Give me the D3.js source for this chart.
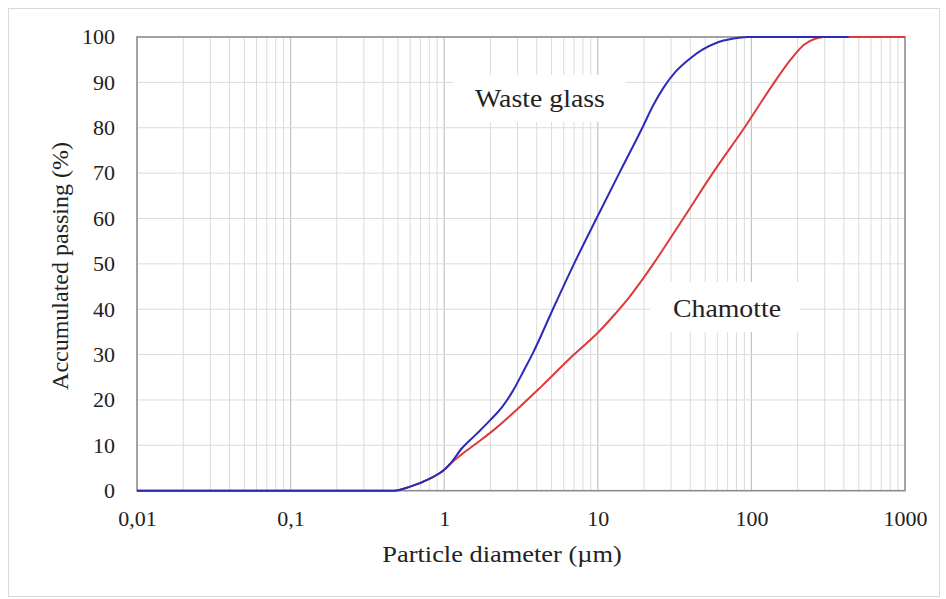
<!DOCTYPE html>
<html><head><meta charset="utf-8">
<script src="https://cdn.jsdelivr.net/npm/d3@7"></script>
<style>
html,body{margin:0;padding:0;background:#fff;}
svg{display:block;}
text{font-family:"Liberation Serif","Times New Roman",serif;fill:#222;}
</style></head>
<body>
<script>
// ---- data ----
const xTickValues = [0.01, 0.1, 1, 10, 100, 1000];
const xTickLabels = ["0,01", "0,1", "1", "10", "100", "1000"];
const yTickValues = [0, 10, 20, 30, 40, 50, 60, 70, 80, 90, 100];

const wasteGlassD = [0.01, 0.1, 0.3, 0.47, 0.6, 0.8, 1.0, 1.1, 1.3, 1.6, 2.0, 2.4, 2.8, 3.3, 3.8, 5.1, 7.0, 9.8, 13.8, 19.5, 23, 27, 32, 39, 48, 60, 75, 95, 430];
const wasteGlassP = [0, 0, 0, 0, 0.9, 2.6, 4.6, 6.0, 9.3, 12.3, 15.6, 18.6, 22, 26.5, 30.5, 40, 50, 60, 70, 80, 85, 89, 92.3, 95, 97.2, 98.8, 99.6, 100, 100];

const chamotteD = [0.01, 0.1, 0.3, 0.47, 0.6, 0.8, 1.0, 1.1, 1.3, 1.6, 2.0, 3.0, 4.3, 7.0, 10, 13, 16, 19, 23, 36, 56, 90, 141, 180, 220, 260, 295, 1000];
const chamotteP = [0, 0, 0, 0, 0.9, 2.6, 4.6, 6.0, 8.0, 10.3, 12.8, 18, 23, 30, 34.8, 39, 42.6, 46, 50, 60, 70, 80, 90, 95, 98.3, 99.6, 100, 100];

const seriesNames = ["Waste glass", "Chamotte"];
const xTitle = "Particle diameter (µm)";
const yTitle = "Accumulated passing (%)";

// ---- layout ----
const W = 946, H = 599;
const L = 137, R = 905, T = 37, B = 490.7;
const svg = d3.select("body").append("svg").attr("width", W).attr("height", H);

svg.append("rect").attr("x", 8.5).attr("y", 8.5).attr("width", 931).attr("height", 588)
  .attr("fill", "#fff").attr("stroke", "#d9d9d9").attr("stroke-width", 1);

const x = d3.scaleLog().domain([0.01, 1000]).range([L, R]);
const y = d3.scaleLinear().domain([0, 100]).range([B, T]);

const g = svg.append("g");

// minor vertical gridlines
const minor = [];
for (let e = -2; e < 3; e++) for (let k = 2; k <= 9; k++) minor.push(k * Math.pow(10, e));
g.selectAll(".vmin").data(minor).join("line")
  .attr("x1", d => x(d)).attr("x2", d => x(d)).attr("y1", T).attr("y2", B)
  .attr("stroke", "#dcdcdc").attr("stroke-width", 1);
g.selectAll(".vmaj").data(xTickValues.slice(1, -1)).join("line")
  .attr("x1", d => x(d)).attr("x2", d => x(d)).attr("y1", T).attr("y2", B)
  .attr("stroke", "#c4c4c4").attr("stroke-width", 1.2);
g.selectAll(".hg").data(yTickValues.slice(1, -1)).join("line")
  .attr("x1", L).attr("x2", R).attr("y1", d => y(d)).attr("y2", d => y(d))
  .attr("stroke", "#dcdcdc").attr("stroke-width", 1);

// annotation backgrounds
svg.append("rect").attr("x", 453).attr("y", 75).attr("width", 172).attr("height", 47).attr("fill", "#fff");
svg.append("rect").attr("x", 650).attr("y", 282).attr("width", 150).attr("height", 50).attr("fill", "#fff");

// frame
svg.append("rect").attr("x", L).attr("y", T).attr("width", R - L).attr("height", B - T)
  .attr("fill", "none").attr("stroke", "#8c8c8c").attr("stroke-width", 1.6);

// lines
const line = d3.line().x(d => x(d[0])).y(d => y(d[1])).curve(d3.curveMonotoneX);
svg.append("path").datum(d3.zip(chamotteD, chamotteP)).attr("d", line)
  .attr("fill", "none").attr("stroke", "#dd3b3b").attr("stroke-width", 2);
svg.append("path").datum(d3.zip(wasteGlassD, wasteGlassP)).attr("d", line)
  .attr("fill", "none").attr("stroke", "#2b2bb8").attr("stroke-width", 2);

// axes via d3 axis, styled
const xAxis = d3.axisBottom(x).tickValues(xTickValues).tickFormat((d, i) => xTickLabels[i]).tickSize(0).tickPadding(0);
const xa = svg.append("g").attr("transform", `translate(0,${B})`).call(xAxis);
xa.select(".domain").remove();
xa.selectAll("text").attr("font-size", 20).attr("fill", "#222").attr("dy", 0)
  .attr("y", 0).attr("x", 0)
  .attr("transform", "translate(0,35) scale(1.1,1)");

const yAxis = d3.axisLeft(y).tickValues(yTickValues).tickSize(0).tickPadding(0);
const ya = svg.append("g").attr("transform", `translate(115,0)`).call(yAxis);
ya.select(".domain").remove();
ya.selectAll("text").attr("font-size", 20).attr("fill", "#222").attr("x", 0).attr("dy", "0.34em")
  .attr("transform", "scale(1.1,1)");

// titles
svg.append("text").attr("transform", "translate(502,562) scale(1.1,1)").attr("text-anchor", "middle")
  .attr("font-size", 24).text(xTitle);
svg.append("text").attr("transform", "translate(68,266) rotate(-90)").attr("text-anchor", "middle")
  .attr("font-size", 24).text(yTitle);

// annotations
svg.append("text").attr("transform", "translate(540,107) scale(1.07,1)").attr("text-anchor", "middle")
  .attr("font-size", 26).text(seriesNames[0]);
svg.append("text").attr("transform", "translate(727,317) scale(1.07,1)").attr("text-anchor", "middle")
  .attr("font-size", 26).text(seriesNames[1]);
</script>
</body></html>
